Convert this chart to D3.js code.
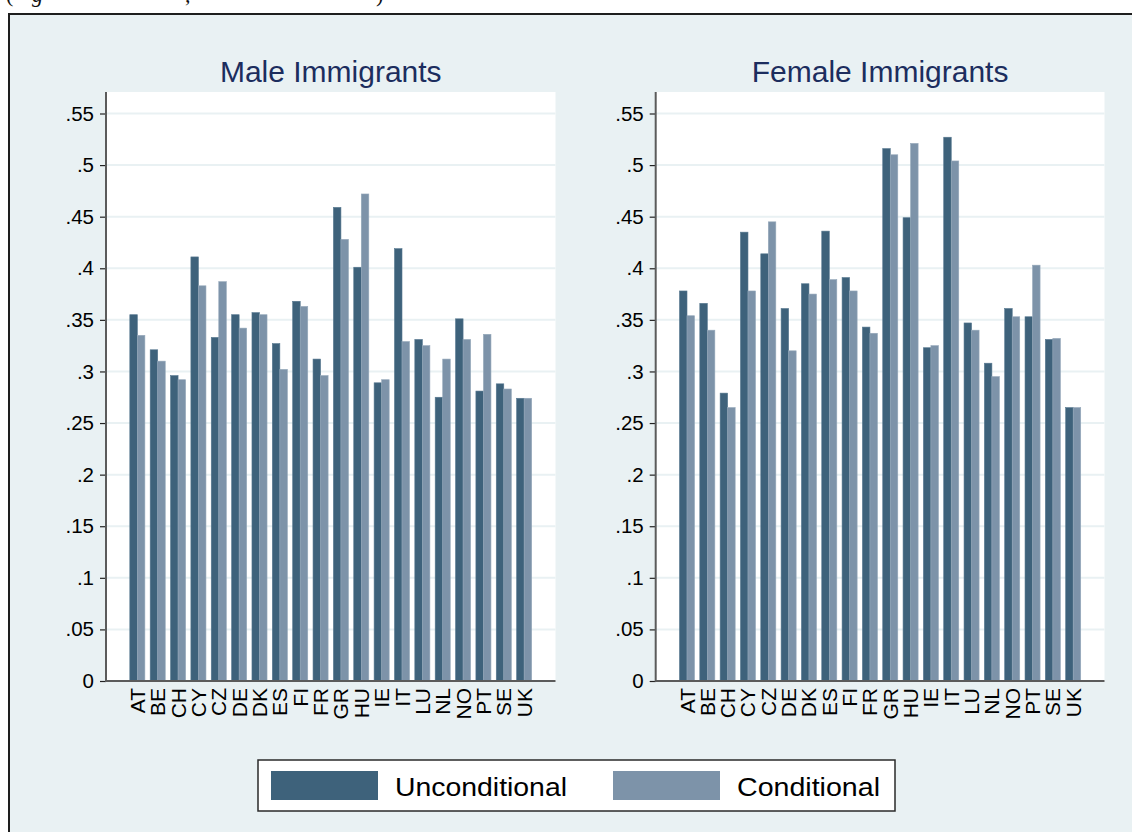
<!DOCTYPE html>
<html>
<head>
<meta charset="utf-8">
<script src="https://cdn.jsdelivr.net/npm/d3@7/dist/d3.min.js"></script>
<style>
  html, body { margin: 0; padding: 0; background: #ffffff; }
  svg { display: block; }
</style>
</head>
<body>
<svg id="chart" width="1132" height="832"></svg>
<script>
// ---------------- data ----------------
const countries = ["AT","BE","CH","CY","CZ","DE","DK","ES","FI","FR","GR","HU","IE","IT","LU","NL","NO","PT","SE","UK"];
const maleUnconditional   = [0.355,0.321,0.296,0.411,0.333,0.355,0.357,0.327,0.368,0.312,0.459,0.401,0.289,0.419,0.331,0.275,0.351,0.281,0.288,0.274];
const maleConditional     = [0.335,0.310,0.292,0.383,0.387,0.342,0.355,0.302,0.363,0.296,0.428,0.472,0.292,0.329,0.325,0.312,0.331,0.336,0.283,0.274];
const femaleUnconditional = [0.378,0.366,0.279,0.435,0.414,0.361,0.385,0.436,0.391,0.343,0.516,0.449,0.323,0.527,0.347,0.308,0.361,0.353,0.331,0.265];
const femaleConditional   = [0.354,0.340,0.265,0.378,0.445,0.320,0.375,0.389,0.378,0.337,0.510,0.521,0.325,0.504,0.340,0.295,0.353,0.403,0.332,0.265];
const yTicks = [0,0.05,0.1,0.15,0.2,0.25,0.3,0.35,0.4,0.45,0.5,0.55];
const seriesNames = ["Unconditional","Conditional"];
const panelTitles = ["Male Immigrants","Female Immigrants"];

// ---------------- styles ----------------
const colors = ["#3e627b","#7d93a9"];
const bgColor = "#e9f1f3";
const gridColor = "#e9f1f3";
const titleColor = "#1c2d5e";
const axisColor = "#5b5b5b";
const fontFamily = "'Liberation Sans', Arial, Helvetica, sans-serif";

const svg = d3.select("#chart");

// page top caption fragment (cut off in the reference)
const cap = svg.append("g").attr("font-family","'Liberation Serif', 'DejaVu Serif', serif").attr("font-size",22).attr("fill","#111");
cap.append("text").attr("x",6).attr("y",2).text("(");
cap.append("text").attr("x",32).attr("y",2).attr("font-style","italic").text("g");
cap.append("text").attr("x",185).attr("y",2).text(",");
cap.append("text").attr("x",376).attr("y",2).text(")");

// outer frame
svg.append("rect")
  .attr("x",9).attr("y",14).attr("width",1140).attr("height",830)
  .attr("fill",bgColor).attr("stroke","#1e1e1e").attr("stroke-width",2);

const plotTop = 92, plotBottom = 681;
const y = d3.scaleLinear().domain([0,0.55]).range([plotBottom,113.5]);

const panels = [
  {x0:106, x1:555.5, title:panelTitles[0], unc:maleUnconditional, con:maleConditional},
  {x0:655.7, x1:1104.5, title:panelTitles[1], unc:femaleUnconditional, con:femaleConditional}
];

panels.forEach(p => {
  const g = svg.append("g");
  // plot area
  g.append("rect").attr("x",p.x0).attr("y",plotTop).attr("width",p.x1-p.x0).attr("height",plotBottom-plotTop).attr("fill","#ffffff");
  // grid
  g.selectAll("line.grid").data(yTicks.filter(d=>d>0)).join("line")
    .attr("class","grid")
    .attr("x1",p.x0).attr("x2",p.x1)
    .attr("y1",d=>y(d)).attr("y2",d=>y(d))
    .attr("stroke",gridColor).attr("stroke-width",2);

  const x = d3.scaleBand().domain(countries).range([p.x0,p.x1]).paddingInner(0.26).paddingOuter(1.17);
  const xs = d3.scaleBand().domain(seriesNames).range([0,x.bandwidth()]).padding(0);

  const data = countries.map((c,i)=>({c, vals:[p.unc[i],p.con[i]]}));
  const grp = g.selectAll("g.grp").data(data).join("g").attr("class","grp")
    .attr("transform",d=>`translate(${x(d.c)},0)`);
  grp.selectAll("rect").data(d=>d.vals.map((v,k)=>({v,k}))).join("rect")
    .attr("x",d=>xs(seriesNames[d.k]))
    .attr("width",xs.bandwidth())
    .attr("y",d=>y(d.v))
    .attr("height",d=>plotBottom-y(d.v))
    .attr("fill",d=>colors[d.k])
    .attr("stroke",d=>d.k===0?"#56778f":"#95a8ba")
    .attr("stroke-width",0.6);

  // y axis
  const ya = g.append("g").attr("transform",`translate(${p.x0},0)`)
    .call(d3.axisLeft(y).tickValues(yTicks).tickSizeInner(6).tickSizeOuter(0).tickPadding(6)
      .tickFormat(d=> d===0 ? "0" : d3.format(".2~f")(d).replace(/^0/,"")));
  ya.select(".domain").remove();
  ya.selectAll(".tick line").attr("stroke","#222").attr("stroke-width",1.2);
  ya.selectAll(".tick text").attr("font-family",fontFamily).attr("font-size",20.5).attr("fill","#000");
  g.append("line").attr("x1",p.x0).attr("x2",p.x0).attr("y1",plotTop).attr("y2",plotBottom+1)
    .attr("stroke",axisColor).attr("stroke-width",2);

  // x axis
  const xa = g.append("g").attr("transform",`translate(0,${plotBottom})`)
    .call(d3.axisBottom(x).tickSize(0).tickPadding(0));
  xa.select(".domain").remove();
  xa.selectAll(".tick text")
    .attr("font-family",fontFamily).attr("font-size",21).attr("fill","#000")
    .attr("text-anchor","end").attr("dy",null)
    .attr("dominant-baseline","central")
    .attr("transform","translate(0,7) rotate(-90)")
    .attr("y",0).attr("x",0);
  g.append("line").attr("x1",p.x0).attr("x2",p.x1).attr("y1",plotBottom).attr("y2",plotBottom)
    .attr("stroke",axisColor).attr("stroke-width",2);

  // title
  g.append("text").attr("x",(p.x0+p.x1)/2).attr("y",82).attr("text-anchor","middle")
    .attr("font-family",fontFamily).attr("font-size",30).attr("fill",titleColor).text(p.title);
});

// legend
const lg = svg.append("g");
lg.append("rect").attr("x",258).attr("y",760).attr("width",637).attr("height",51)
  .attr("fill","#ffffff").attr("stroke","#2a2a2a").attr("stroke-width",1.5);
const legendItems = [
  {name:seriesNames[0], sx:271, tx:395, tw:172},
  {name:seriesNames[1], sx:613, tx:737, tw:143}
];
legendItems.forEach((it,k)=>{
  lg.append("rect").attr("x",it.sx).attr("y",771).attr("width",107).attr("height",29).attr("fill",colors[k]);
  lg.append("text").attr("x",it.tx).attr("y",795.5).attr("font-family",fontFamily).attr("font-size",25)
    .attr("fill","#000").attr("textLength",it.tw).attr("lengthAdjust","spacingAndGlyphs").text(it.name);
});
</script>
</body>
</html>
